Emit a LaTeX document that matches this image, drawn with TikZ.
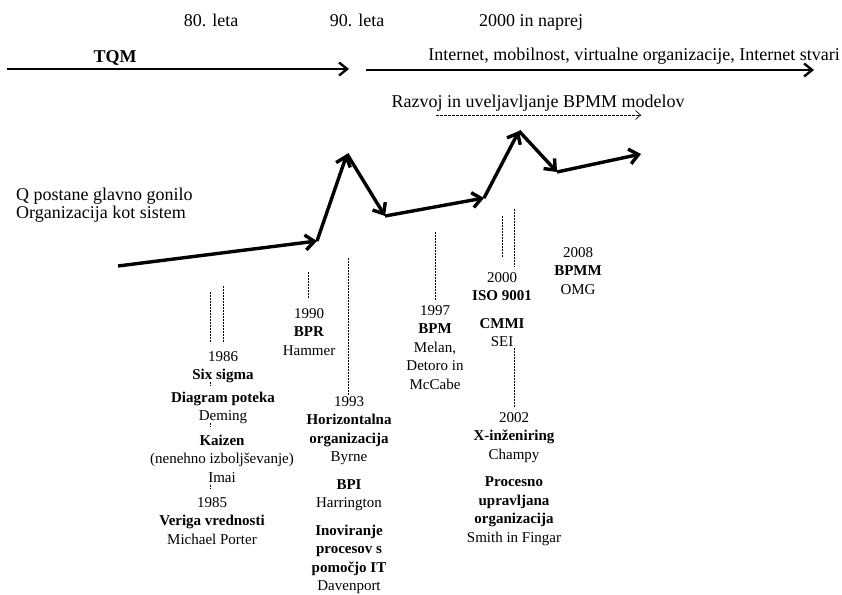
\documentclass[tikz,border=0pt]{standalone}
\usepackage{fontspec}
\setmainfont{Liberation Serif}
\usetikzlibrary{arrows.meta}
\begin{document}
\begin{tikzpicture}[x=1pt,y=-1pt,
  big/.style={font=\fontsize{18}{18.5}\selectfont, inner sep=0pt, anchor=base},
  item/.style={font=\fontsize{15}{18.5}\selectfont, inner sep=0pt, align=center, anchor=base},
  era/.style={line width=2.4pt, -{Straight Barb[length=8pt,width=13pt]}},
  trend/.style={line width=3.4pt, line join=round, -{Straight Barb[length=9pt,width=15pt]}},
  guide/.style={line width=0.7pt, dash pattern=on 2pt off 1pt},
  devline/.style={line width=0.7pt, dash pattern=on 3pt off 1pt, -{Straight Barb[length=5pt,width=9pt]}}
]
\useasboundingbox (0,0) rectangle (842,594);

% period headings
\node[big] (p80) at (211,27) {80. leta};
\node[big] (p90) at (357,27) {90. leta};
\node[big] (p00) at (531,27) {2000 in naprej};

% era arrows
\coordinate (tqmA) at (7,69);
\coordinate (tqmB) at (349,69);
\coordinate (netA) at (366,70);
\coordinate (netB) at (814,70);
\draw[era] (tqmA) -- (tqmB);
\draw[era] (netA) -- (netB);
\node[big, font=\fontsize{18}{18.5}\selectfont\bfseries] (tqm) at (115,63) {TQM};
\node[big, anchor=base east] (net) at (840,60) {Internet, mobilnost, virtualne organizacije, Internet stvari};

% BPMM development
\node[big] (bpmm) at (538,107) {Razvoj in uveljavljanje BPMM modelov};
\coordinate (devA) at (436,115);
\coordinate (devB) at (641,115);
\draw[devline] (devA) -- (devB);

% drivers (anchored on the last line's baseline)
\node[big, align=left, anchor=base west] (drivers) at (16,218.5) {Q postane glavno gonilo\\Organizacija kot sistem};

% trend line
\coordinate (t0) at (118,266);
\coordinate (t1) at (317,241);
\coordinate (t2) at (347,154);
\coordinate (t3) at (385,216);
\coordinate (t4) at (484,198);
\coordinate (t5) at (519,131);
\coordinate (t6) at (557,172);
\coordinate (t7) at (641,154);
\draw[trend] (t0) -- (t1);
\draw[trend] (t1) -- (t2);
\draw[trend] (t2) -- (t3);
\draw[trend] (t3) -- (t4);
\draw[trend] (t4) -- (t5);
\draw[trend] (t5) -- (t6);
\draw[trend] (t6) -- (t7);

% milestones (each placed by the baseline of its last line)
\node[item] (a1) at (223,379.5) {1986\\\textbf{Six sigma}};
\node[item] (a2) at (223,420.5) {\textbf{Diagram poteka}\\Deming};
\node[item] (a3) at (222,482) {\textbf{Kaizen}\\(nenehno izboljševanje)\\Imai};
\node[item] (a4) at (212,544) {1985\\\textbf{Veriga vrednosti}\\Michael Porter};
\node[item] (b) at (309,355) {1990\\\textbf{BPR}\\Hammer};
\node[item] (c) at (349,590.5) {1993\\\textbf{Horizontalna}\\\textbf{organizacija}\\Byrne\\[9pt]\textbf{BPI}\\Harrington\\[9pt]\textbf{Inoviranje}\\\textbf{procesov s}\\\textbf{pomočjo IT}\\Davenport};
\node[item] (d) at (435,389) {1997\\\textbf{BPM}\\Melan,\\Detoro in\\McCabe};
\node[item] (e) at (502,346.5) {2000\\\textbf{ISO 9001}\\[9pt]\textbf{CMMI}\\SEI};
\node[item] (f) at (514,542) {2002\\\textbf{X-inženiring}\\Champy\\[9pt]\textbf{Procesno}\\\textbf{upravljana}\\\textbf{organizacija}\\Smith in Fingar};
\node[item] (g) at (578,294) {2008\\\textbf{BPMM}\\OMG};

% dashed guides
\coordinate (g1a) at (210,292); \coordinate (g1b) at (210,343);
\coordinate (g2a) at (223,286); \coordinate (g2b) at (223,343);
\coordinate (g3a) at (308,272); \coordinate (g3b) at (308,298);
\coordinate (g4a) at (348,258); \coordinate (g4b) at (348,395);
\coordinate (g5a) at (435,232); \coordinate (g5b) at (435,300);
\coordinate (g6a) at (502,216); \coordinate (g6b) at (502,258);
\coordinate (g7a) at (514,209); \coordinate (g7b) at (514,267);
\coordinate (g8a) at (514,348); \coordinate (g8b) at (514,407);
\coordinate (g9a) at (210,381.5); \coordinate (g9b) at (210,385.5);
\coordinate (g10a) at (210,423); \coordinate (g10b) at (210,427);
\coordinate (g11a) at (210,485); \coordinate (g11b) at (210,489);
\foreach \i in {1,...,11} \draw[guide] (g\i a) -- (g\i b);
\end{tikzpicture}
\end{document}
